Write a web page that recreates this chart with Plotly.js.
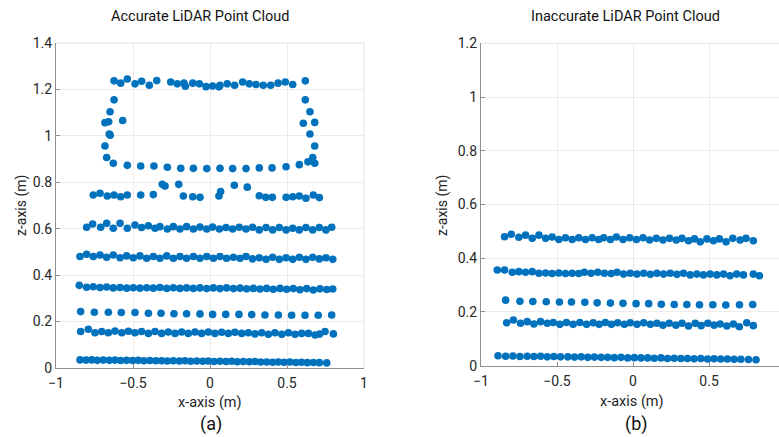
<!DOCTYPE html>
<html>
<head>
<meta charset="utf-8">
<script src="https://cdn.plot.ly/plotly-3.0.1.min.js"></script>
<style>
  html, body { margin: 0; padding: 0; background: #ffffff; }
  #chart { width: 779px; height: 437px; }
</style>
</head>
<body>
<div id="chart"></div>
<script>
// ---------- Accurate LiDAR scan (panel a) ----------
const accRoofX = [-0.623, -0.580, -0.537, -0.487, -0.444, -0.394, -0.346, -0.255, -0.212, -0.169, -0.160, -0.112, -0.069, -0.026, 0.017, 0.065, 0.058, 0.112, 0.160, 0.212, 0.255, 0.299, 0.346, 0.394, 0.442, 0.489, 0.537, 0.619];
const accRoofY = [1.237, 1.227, 1.245, 1.224, 1.235, 1.218, 1.238, 1.232, 1.224, 1.227, 1.214, 1.227, 1.224, 1.212, 1.215, 1.218, 1.211, 1.224, 1.218, 1.232, 1.224, 1.221, 1.218, 1.218, 1.227, 1.232, 1.221, 1.237];

const accWallLeftX = [-0.623, -0.649, -0.682, -0.658, -0.567, -0.654, -0.648, -0.682, -0.671, -0.628];
const accWallLeftY = [1.155, 1.104, 1.057, 1.061, 1.066, 1.008, 1.003, 0.956, 0.907, 0.882];

const accWallRightX = [0.619, 0.649, 0.606, 0.680, 0.649, 0.680, 0.667, 0.636, 0.680, 0.580];
const accWallRightY = [1.155, 1.104, 1.054, 1.058, 1.008, 0.956, 0.907, 0.888, 0.882, 0.876];

const accSillX = [-0.537, -0.450, -0.364, -0.277, -0.190, -0.108, -0.021, 0.065, 0.147, 0.234, 0.320, 0.403, 0.494];
const accSillY = [0.873, 0.870, 0.870, 0.865, 0.860, 0.860, 0.859, 0.860, 0.859, 0.859, 0.862, 0.862, 0.867];

const accRow074X = [-0.758, -0.714, -0.667, -0.623, -0.580, -0.537, -0.450, -0.368, -0.310, -0.292, -0.203, -0.173, -0.112, -0.065, 0.058, 0.069, 0.158, 0.242, 0.320, 0.362, 0.405, 0.494, 0.537, 0.580, 0.623, 0.671, 0.710];
const accRow074Y = [0.745, 0.753, 0.741, 0.745, 0.738, 0.745, 0.745, 0.747, 0.791, 0.784, 0.791, 0.741, 0.738, 0.735, 0.741, 0.760, 0.787, 0.779, 0.742, 0.735, 0.735, 0.735, 0.738, 0.741, 0.731, 0.745, 0.734];

const accRow060X = [-0.801, -0.762, -0.710, -0.671, -0.628, -0.584, -0.537, -0.487, -0.444, -0.400, -0.357, -0.325, -0.277, -0.238, -0.195, -0.152, -0.108, -0.065, -0.021, 0.017, 0.061, 0.104, 0.147, 0.190, 0.234, 0.277, 0.320, 0.364, 0.407, 0.450, 0.494, 0.537, 0.580, 0.623, 0.667, 0.710, 0.753, 0.790];
const accRow060Y = [0.606, 0.620, 0.606, 0.623, 0.602, 0.623, 0.602, 0.616, 0.605, 0.613, 0.602, 0.609, 0.599, 0.609, 0.599, 0.609, 0.599, 0.607, 0.599, 0.607, 0.599, 0.605, 0.599, 0.606, 0.599, 0.606, 0.595, 0.605, 0.595, 0.605, 0.595, 0.602, 0.595, 0.605, 0.595, 0.605, 0.595, 0.606];

const accRow048X = [-0.844, -0.801, -0.758, -0.714, -0.671, -0.628, -0.584, -0.541, -0.498, -0.455, -0.411, -0.368, -0.325, -0.281, -0.238, -0.195, -0.152, -0.108, -0.065, -0.021, 0.022, 0.065, 0.108, 0.152, 0.195, 0.234, 0.277, 0.320, 0.364, 0.407, 0.450, 0.494, 0.537, 0.580, 0.623, 0.667, 0.710, 0.753, 0.797];
const accRow048Y = [0.480, 0.490, 0.480, 0.487, 0.477, 0.487, 0.475, 0.483, 0.475, 0.483, 0.473, 0.480, 0.473, 0.483, 0.473, 0.480, 0.473, 0.480, 0.473, 0.480, 0.473, 0.480, 0.473, 0.477, 0.473, 0.480, 0.470, 0.475, 0.468, 0.477, 0.468, 0.475, 0.468, 0.477, 0.468, 0.477, 0.470, 0.475, 0.468];

const accRow035X = [-0.849, -0.801, -0.758, -0.714, -0.671, -0.628, -0.584, -0.541, -0.498, -0.455, -0.411, -0.368, -0.325, -0.281, -0.238, -0.195, -0.152, -0.108, -0.065, -0.021, 0.022, 0.065, 0.108, 0.152, 0.195, 0.238, 0.281, 0.325, 0.368, 0.411, 0.455, 0.498, 0.541, 0.584, 0.628, 0.671, 0.714, 0.758, 0.797];
const accRow035Y = [0.356, 0.348, 0.350, 0.347, 0.349, 0.345, 0.347, 0.344, 0.346, 0.344, 0.346, 0.344, 0.347, 0.343, 0.346, 0.343, 0.345, 0.343, 0.345, 0.342, 0.345, 0.342, 0.345, 0.342, 0.344, 0.341, 0.343, 0.340, 0.343, 0.339, 0.343, 0.339, 0.342, 0.337, 0.342, 0.336, 0.341, 0.338, 0.340];

const accRow024X = [-0.840, -0.751, -0.660, -0.576, -0.487, -0.400, -0.318, -0.234, -0.152, -0.065, 0.017, 0.102, 0.188, 0.271, 0.357, 0.444, 0.530, 0.617, 0.703, 0.790];
const accRow024Y = [0.243, 0.240, 0.240, 0.239, 0.239, 0.236, 0.236, 0.234, 0.234, 0.233, 0.231, 0.231, 0.231, 0.230, 0.228, 0.228, 0.227, 0.227, 0.227, 0.228];

const accRow016X = [-0.840, -0.790, -0.747, -0.703, -0.660, -0.617, -0.573, -0.530, -0.487, -0.444, -0.400, -0.357, -0.314, -0.271, -0.227, -0.184, -0.141, -0.097, -0.054, -0.011, 0.032, 0.076, 0.119, 0.162, 0.206, 0.249, 0.292, 0.336, 0.379, 0.422, 0.466, 0.509, 0.552, 0.595, 0.639, 0.682, 0.712, 0.747, 0.801];
const accRow016Y = [0.157, 0.167, 0.152, 0.157, 0.152, 0.159, 0.152, 0.158, 0.152, 0.157, 0.149, 0.157, 0.149, 0.155, 0.149, 0.155, 0.149, 0.155, 0.149, 0.155, 0.149, 0.154, 0.149, 0.154, 0.149, 0.152, 0.147, 0.152, 0.145, 0.152, 0.145, 0.152, 0.145, 0.149, 0.149, 0.142, 0.146, 0.157, 0.147];

const accRow003X = [-0.844, -0.805, -0.768, -0.732, -0.693, -0.654, -0.617, -0.580, -0.541, -0.502, -0.466, -0.429, -0.390, -0.351, -0.314, -0.277, -0.238, -0.199, -0.162, -0.125, -0.086, -0.047, -0.011, 0.026, 0.065, 0.104, 0.141, 0.177, 0.216, 0.255, 0.292, 0.329, 0.368, 0.407, 0.444, 0.481, 0.519, 0.558, 0.595, 0.632, 0.671, 0.710, 0.758];
const accRow003Y = [0.035, 0.034, 0.035, 0.033, 0.034, 0.033, 0.034, 0.032, 0.033, 0.032, 0.033, 0.031, 0.032, 0.031, 0.031, 0.030, 0.031, 0.030, 0.031, 0.029, 0.030, 0.029, 0.030, 0.028, 0.029, 0.028, 0.029, 0.027, 0.028, 0.027, 0.028, 0.026, 0.026, 0.025, 0.026, 0.025, 0.026, 0.024, 0.025, 0.023, 0.024, 0.023, 0.022];

// ---------- Inaccurate LiDAR scan (panel b) ----------
const inaRow048X = [-0.845, -0.801, -0.751, -0.707, -0.663, -0.619, -0.575, -0.532, -0.488, -0.444, -0.400, -0.357, -0.313, -0.269, -0.226, -0.193, -0.149, -0.110, -0.066, -0.022, 0.022, 0.066, 0.109, 0.153, 0.197, 0.240, 0.284, 0.322, 0.365, 0.404, 0.442, 0.486, 0.529, 0.568, 0.612, 0.656, 0.704, 0.743, 0.791];
const inaRow048Y = [0.480, 0.489, 0.478, 0.486, 0.474, 0.486, 0.474, 0.479, 0.470, 0.476, 0.470, 0.476, 0.470, 0.476, 0.470, 0.476, 0.470, 0.479, 0.470, 0.476, 0.470, 0.476, 0.468, 0.474, 0.468, 0.474, 0.468, 0.474, 0.465, 0.472, 0.461, 0.472, 0.465, 0.472, 0.461, 0.474, 0.468, 0.474, 0.465];

const inaRow035X = [-0.893, -0.845, -0.794, -0.751, -0.707, -0.663, -0.619, -0.575, -0.532, -0.488, -0.444, -0.400, -0.357, -0.320, -0.276, -0.232, -0.188, -0.144, -0.105, -0.062, -0.018, 0.026, 0.070, 0.114, 0.157, 0.201, 0.245, 0.289, 0.332, 0.376, 0.420, 0.463, 0.507, 0.551, 0.595, 0.638, 0.682, 0.726, 0.791, 0.831];
const inaRow035Y = [0.356, 0.356, 0.348, 0.350, 0.348, 0.350, 0.344, 0.345, 0.343, 0.345, 0.343, 0.344, 0.343, 0.348, 0.344, 0.348, 0.344, 0.343, 0.348, 0.341, 0.344, 0.341, 0.344, 0.340, 0.344, 0.341, 0.344, 0.340, 0.344, 0.338, 0.341, 0.338, 0.341, 0.338, 0.341, 0.335, 0.341, 0.338, 0.341, 0.335];

const inaRow024X = [-0.838, -0.744, -0.659, -0.571, -0.484, -0.405, -0.317, -0.236, -0.149, -0.066, 0.020, 0.103, 0.186, 0.271, 0.354, 0.437, 0.525, 0.610, 0.700, 0.787];
const inaRow024Y = [0.244, 0.240, 0.239, 0.238, 0.237, 0.237, 0.236, 0.234, 0.233, 0.232, 0.231, 0.231, 0.229, 0.228, 0.228, 0.227, 0.227, 0.226, 0.227, 0.228];

const inaRow016X = [-0.831, -0.787, -0.740, -0.696, -0.652, -0.608, -0.564, -0.525, -0.481, -0.438, -0.394, -0.350, -0.306, -0.262, -0.223, -0.182, -0.142, -0.101, -0.057, -0.018, 0.026, 0.070, 0.114, 0.157, 0.197, 0.238, 0.282, 0.322, 0.365, 0.409, 0.448, 0.492, 0.533, 0.573, 0.617, 0.660, 0.699, 0.748, 0.791];
const inaRow016Y = [0.160, 0.170, 0.158, 0.164, 0.155, 0.164, 0.158, 0.161, 0.154, 0.161, 0.154, 0.161, 0.154, 0.160, 0.154, 0.161, 0.154, 0.160, 0.154, 0.160, 0.154, 0.160, 0.154, 0.158, 0.151, 0.158, 0.151, 0.158, 0.148, 0.158, 0.149, 0.158, 0.151, 0.155, 0.148, 0.155, 0.145, 0.160, 0.149];

const inaRow003X = [-0.888, -0.838, -0.790, -0.744, -0.696, -0.652, -0.608, -0.564, -0.521, -0.477, -0.429, -0.385, -0.341, -0.298, -0.254, -0.210, -0.167, -0.123, -0.079, -0.035, 0.009, 0.052, 0.096, 0.140, 0.184, 0.227, 0.271, 0.315, 0.358, 0.402, 0.446, 0.490, 0.533, 0.577, 0.621, 0.665, 0.709, 0.759, 0.809];
const inaRow003Y = [0.037, 0.035, 0.036, 0.034, 0.035, 0.034, 0.035, 0.033, 0.034, 0.033, 0.033, 0.032, 0.033, 0.031, 0.032, 0.031, 0.031, 0.030, 0.031, 0.029, 0.030, 0.029, 0.029, 0.028, 0.029, 0.027, 0.028, 0.027, 0.027, 0.026, 0.027, 0.025, 0.026, 0.025, 0.025, 0.024, 0.024, 0.023, 0.022];

// ---------- Text ----------
const panelTitles = ['Accurate LiDAR Point Cloud', 'Inaccurate LiDAR Point Cloud'];
const panelTags = ['(a)', '(b)'];
const xLabel = 'x-axis (m)';
const zLabel = 'z-axis (m)';

// ---------- Styling ----------
const dotColor = '#0072BD';
const dotSize = 7.6;
const axisLine = '#8f8f8f';
const gridColor = '#ebebeb';
const textColor = '#262626';
const FONT = 'Roboto, "Liberation Sans", Arial, sans-serif';

function cloud(xs, ys, xa, ya) {
  return {
    type: 'scatter', mode: 'markers', x: xs, y: ys,
    xaxis: xa, yaxis: ya,
    marker: { color: dotColor, size: dotSize, line: { width: 0 } },
    hoverinfo: 'skip', showlegend: false
  };
}

const accurateRows = [
  [accRoofX, accRoofY], [accWallLeftX, accWallLeftY], [accWallRightX, accWallRightY],
  [accSillX, accSillY], [accRow074X, accRow074Y], [accRow060X, accRow060Y],
  [accRow048X, accRow048Y], [accRow035X, accRow035Y], [accRow024X, accRow024Y],
  [accRow016X, accRow016Y], [accRow003X, accRow003Y]
];
const inaccurateRows = [
  [inaRow048X, inaRow048Y], [inaRow035X, inaRow035Y], [inaRow024X, inaRow024Y],
  [inaRow016X, inaRow016Y], [inaRow003X, inaRow003Y]
];

const traces = [];
accurateRows.forEach(r => traces.push(cloud(r[0], r[1], 'x', 'y')));
inaccurateRows.forEach(r => traces.push(cloud(r[0], r[1], 'x2', 'y2')));

// panel geometry in paper fractions
const W = 779, H = 437;
const px = v => v / W;
const py = v => 1 - v / H;

function xAxis(domain, range, anchor) {
  return {
    domain: domain, range: range, anchor: anchor,
    dtick: 0.5, tick0: 0,
    showgrid: true, gridcolor: gridColor, gridwidth: 1,
    zeroline: false, showline: true, linecolor: axisLine, linewidth: 1,
    ticks: 'inside', ticklen: 4, tickcolor: axisLine,
    ticklabelstandoff: 2,
    tickfont: { family: FONT, size: 14, color: textColor },
    fixedrange: true
  };
}
function yAxis(domain, range, anchor) {
  return {
    domain: domain, range: range, anchor: anchor,
    dtick: 0.2, tick0: 0,
    showgrid: true, gridcolor: gridColor, gridwidth: 1,
    zeroline: false, showline: true, linecolor: axisLine, linewidth: 1,
    ticks: 'inside', ticklen: 4, tickcolor: axisLine,
    tickfont: { family: FONT, size: 14, color: textColor },
    fixedrange: true
  };
}

const aL = 56, aR = 364, aT = 43, aB = 368;
const bL = 481, bR = 779, bT = 43.3, bB = 365.7;

const layout = {
  width: W, height: H,
  margin: { l: 0, r: 0, t: 0, b: 0 },
  paper_bgcolor: '#ffffff', plot_bgcolor: '#ffffff',
  showlegend: false, hovermode: false,
  xaxis: xAxis([px(aL), px(aR)], [-1, 1], 'y'),
  yaxis: yAxis([py(aB), py(aT)], [0, 1.4], 'x'),
  xaxis2: xAxis([px(bL), px(bR)], [-1, 0.96], 'y2'),
  yaxis2: yAxis([py(bB), py(bT)], [0, 1.2], 'x2'),
  shapes: [
    // light box edges on top and right of panel (a), top of panel (b)
    { type: 'line', xref: 'paper', yref: 'paper', x0: px(aL), x1: px(aR), y0: py(aT), y1: py(aT), line: { color: '#e3e3e3', width: 1 } },
    { type: 'line', xref: 'paper', yref: 'paper', x0: px(aR), x1: px(aR), y0: py(aB), y1: py(aT), line: { color: '#e3e3e3', width: 1 } },
    { type: 'line', xref: 'paper', yref: 'paper', x0: px(bL), x1: px(bR), y0: py(bT), y1: py(bT), line: { color: '#e3e3e3', width: 1 } }
  ],
  annotations: [
    { text: panelTitles[0], x: px(200), y: py(17), xref: 'paper', yref: 'paper', showarrow: false, xanchor: 'center', yanchor: 'middle', font: { family: FONT, size: 14.5, color: '#111111' } },
    { text: panelTitles[1], x: px(625), y: py(17), xref: 'paper', yref: 'paper', showarrow: false, xanchor: 'center', yanchor: 'middle', font: { family: FONT, size: 14.5, color: '#111111' } },
    { text: zLabel, textangle: -90, x: px(21), y: py(206), xref: 'paper', yref: 'paper', showarrow: false, xanchor: 'center', yanchor: 'middle', font: { family: FONT, size: 14, color: textColor } },
    { text: zLabel, textangle: -90, x: px(443), y: py(205), xref: 'paper', yref: 'paper', showarrow: false, xanchor: 'center', yanchor: 'middle', font: { family: FONT, size: 14, color: textColor } },
    { text: xLabel, x: px(210), y: py(402), xref: 'paper', yref: 'paper', showarrow: false, xanchor: 'center', yanchor: 'middle', font: { family: FONT, size: 14.5, color: textColor } },
    { text: xLabel, x: px(632), y: py(401), xref: 'paper', yref: 'paper', showarrow: false, xanchor: 'center', yanchor: 'middle', font: { family: FONT, size: 14.5, color: textColor } },
    { text: panelTags[0], x: px(211), y: py(424), xref: 'paper', yref: 'paper', showarrow: false, xanchor: 'center', yanchor: 'middle', font: { family: FONT, size: 18, color: '#111111' } },
    { text: panelTags[1], x: px(636), y: py(424), xref: 'paper', yref: 'paper', showarrow: false, xanchor: 'center', yanchor: 'middle', font: { family: FONT, size: 18, color: '#111111' } }
  ]
};

Plotly.newPlot('chart', traces, layout, { displayModeBar: false, staticPlot: true });
</script>
</body>
</html>
